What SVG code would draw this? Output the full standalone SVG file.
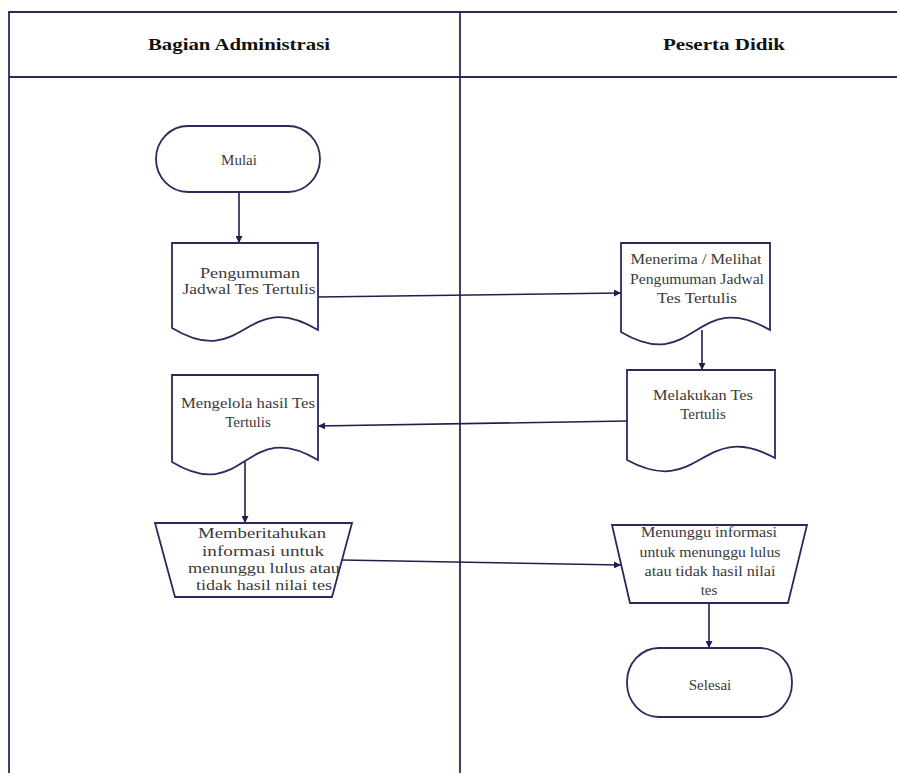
<svg xmlns="http://www.w3.org/2000/svg" width="897" height="773" viewBox="0 0 897 773">
<defs>
<marker id="ah" viewBox="0 0 10 10" refX="10" refY="5" markerWidth="7" markerHeight="7" markerUnits="userSpaceOnUse" orient="auto">
<path d="M0,0 L10,5 L0,10 Z" fill="#1f1f4d"/>
</marker>
<style>
.shape{fill:#ffffff;stroke:#2a2a5c;stroke-width:1.8}
.lane{fill:none;stroke:#2a2a5c;stroke-width:1.8}
.conn{fill:none;stroke:#1f1f4d;stroke-width:1.6;marker-end:url(#ah)}
.t{font-family:'Liberation Serif','DejaVu Serif',serif;font-size:15px;fill:#3a3a3a;text-anchor:middle}
.h{font-family:'Liberation Serif','DejaVu Serif',serif;font-size:16px;font-weight:bold;fill:#111111;text-anchor:middle}
</style>
</defs>
<rect width="897" height="773" fill="#ffffff"/>
<g id="lanes">
<path class="lane" d="M9,773 V12 H897"/>
<path class="lane" d="M9,77 H897"/>
<path class="lane" d="M460,12 V773"/>
<text class="h" x="239" y="50" textLength="182" lengthAdjust="spacingAndGlyphs">Bagian Administrasi</text>
<text class="h" x="724" y="50" textLength="122" lengthAdjust="spacingAndGlyphs">Peserta Didik</text>
</g>
<g id="connectors">
<line class="conn" x1="239" y1="192" x2="239" y2="243"/>
<line class="conn" x1="318" y1="297" x2="621" y2="293"/>
<line class="conn" x1="702" y1="330" x2="702" y2="370"/>
<line class="conn" x1="627" y1="421" x2="318" y2="426"/>
<line class="conn" x1="245" y1="462" x2="245" y2="523"/>
<line class="conn" x1="342" y1="560" x2="621" y2="565"/>
<line class="conn" x1="709" y1="603" x2="709" y2="648"/>
</g>
<g id="mulai">
<rect class="shape" x="156" y="126" width="164" height="66" rx="32" ry="33"/>
<text class="t" x="239" y="165">Mulai</text>
</g>
<g id="pengumuman">
<path class="shape" d="M172,243 H318 V330 C245,286 245,372 172,328 Z"/>
<text class="t" x="250" y="278" textLength="100" lengthAdjust="spacingAndGlyphs">Pengumuman</text>
<text class="t" x="249" y="294" textLength="133" lengthAdjust="spacingAndGlyphs">Jadwal Tes Tertulis</text>
</g>
<g id="menerima">
<path class="shape" d="M621,243 H770 V330 C695,286 695,376 621,332 Z"/>
<text class="t" x="696" y="264" textLength="131" lengthAdjust="spacingAndGlyphs">Menerima / Melihat</text>
<text class="t" x="697" y="284" textLength="134" lengthAdjust="spacingAndGlyphs">Pengumuman Jadwal</text>
<text class="t" x="697" y="303" textLength="80" lengthAdjust="spacingAndGlyphs">Tes Tertulis</text>
</g>
<g id="melakukan">
<path class="shape" d="M627,370 H775 V458 C701,418 701,500 627,460 Z"/>
<text class="t" x="703" y="400" textLength="100" lengthAdjust="spacingAndGlyphs">Melakukan Tes</text>
<text class="t" x="703" y="419">Tertulis</text>
</g>
<g id="mengelola">
<path class="shape" d="M172,375 H318 V460 C245,416 245,506 172,462 Z"/>
<text class="t" x="248" y="408" textLength="134" lengthAdjust="spacingAndGlyphs">Mengelola hasil Tes</text>
<text class="t" x="248" y="427">Tertulis</text>
</g>
<g id="memberitahukan">
<path class="shape" d="M155,523 H352 L332,597 H175 Z"/>
<text class="t" x="262" y="538" textLength="128" lengthAdjust="spacingAndGlyphs">Memberitahukan</text>
<text class="t" x="263" y="556" textLength="122" lengthAdjust="spacingAndGlyphs">informasi untuk</text>
<text class="t" x="264" y="573" textLength="152" lengthAdjust="spacingAndGlyphs">menunggu lulus atau</text>
<text class="t" x="264" y="590" textLength="136" lengthAdjust="spacingAndGlyphs">tidak hasil nilai tes</text>
</g>
<g id="menunggu">
<path class="shape" d="M612,525 H807 L788,603 H630 Z"/>
<text class="t" x="709" y="537" textLength="136" lengthAdjust="spacingAndGlyphs">Menunggu informasi</text>
<text class="t" x="710" y="557" textLength="141" lengthAdjust="spacingAndGlyphs">untuk menunggu lulus</text>
<text class="t" x="710" y="576" textLength="131" lengthAdjust="spacingAndGlyphs">atau tidak hasil nilai</text>
<text class="t" x="709" y="595">tes</text>
</g>
<g id="selesai">
<rect class="shape" x="627" y="648" width="165" height="69" rx="32" ry="34"/>
<text class="t" x="710" y="690">Selesai</text>
</g>
</svg>
